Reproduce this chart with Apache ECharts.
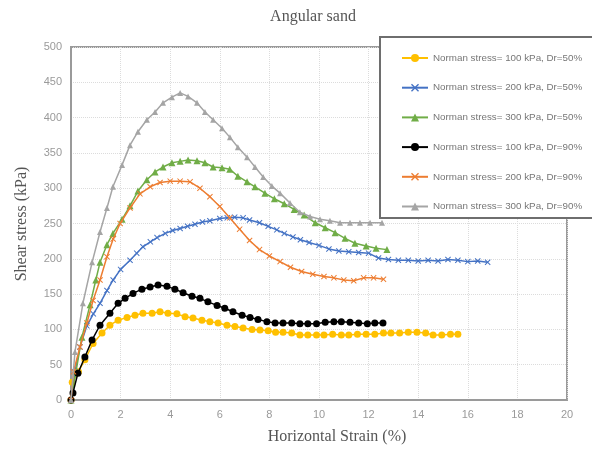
<!DOCTYPE html>
<html>
<head>
<meta charset="utf-8">
<script src="https://cdn.jsdelivr.net/npm/echarts@6/dist/echarts.min.js"></script>
<style>html,body{margin:0;padding:0;background:#fff}#c{width:592px;height:454px}</style>
</head>
<body>
<div id="c"></div>
<script>
var xTicks = [0, 2, 4, 6, 8, 10, 12, 14, 16, 18, 20];
var yTicks = [0, 50, 100, 150, 200, 250, 300, 350, 400, 450, 500];
var seriesNames = [
  'Norman stress= 100 kPa, Dr=50%',
  'Norman stress= 200 kPa, Dr=50%',
  'Norman stress= 300 kPa, Dr=50%',
  'Norman stress= 100 kPa, Dr=90%',
  'Norman stress= 200 kPa, Dr=90%',
  'Norman stress= 300 kPa, Dr=90%'
];
var s100d50 = [[0,0],[0.05,25],[0.3,40],[0.56,57],[0.89,80],[1.25,95],[1.57,106],[1.9,113],[2.26,117],[2.58,120],[2.9,123],[3.27,123],[3.59,125],[3.91,123],[4.27,122],[4.6,118],[4.92,116],[5.28,113],[5.6,111],[5.93,109],[6.29,106],[6.61,104],[6.94,102],[7.3,100],[7.62,99],[7.95,98],[8.25,96],[8.55,96],[8.9,95],[9.23,92],[9.55,92],[9.9,92],[10.2,92],[10.55,93],[10.9,92],[11.2,92],[11.55,93],[11.9,93],[12.25,93],[12.6,95],[12.9,95],[13.25,95],[13.6,96],[13.95,96],[14.3,95],[14.6,92],[14.95,92],[15.3,93],[15.6,93]];
var s200d50 = [[0,0],[0.16,40],[0.36,75],[0.64,105],[0.9,122],[1.17,137],[1.45,155],[1.7,170],[2.0,185],[2.38,198],[2.65,208],[2.9,217],[3.2,224],[3.47,230],[3.8,236],[4.1,240],[4.4,243],[4.7,246],[5.0,249],[5.3,252],[5.6,254],[6.0,257],[6.3,258],[6.6,259],[6.94,258],[7.2,255],[7.6,251],[7.95,246],[8.3,241],[8.6,236],[8.95,231],[9.25,227],[9.6,223],[10.0,219],[10.4,214],[10.8,211],[11.2,210],[11.6,209],[12.0,208],[12.4,201],[12.8,199],[13.2,198],[13.6,198],[14.0,197],[14.4,198],[14.8,197],[15.2,199],[15.6,198],[16.0,196],[16.4,197],[16.8,195]];
var s300d50 = [[0,0],[0.2,40],[0.44,89],[0.77,135],[1.0,170],[1.17,195],[1.45,220],[1.69,236],[2.06,256],[2.38,275],[2.7,296],[3.06,312],[3.39,323],[3.71,330],[4.07,336],[4.4,338],[4.72,340],[5.08,339],[5.4,336],[5.73,330],[6.09,329],[6.4,327],[6.73,317],[7.1,309],[7.42,302],[7.82,293],[8.2,285],[8.6,278],[9.0,270],[9.4,262],[9.85,251],[10.25,244],[10.65,237],[11.05,229],[11.45,222],[11.9,218],[12.3,215],[12.74,213]];
var s100d90 = [[0,0],[0.08,10],[0.28,38],[0.56,61],[0.85,85],[1.17,106],[1.57,123],[1.9,137],[2.18,144],[2.5,151],[2.86,157],[3.19,160],[3.51,163],[3.87,161],[4.19,157],[4.52,152],[4.88,147],[5.2,144],[5.52,139],[5.89,134],[6.2,130],[6.53,125],[6.9,120],[7.22,117],[7.54,114],[7.9,111],[8.23,109],[8.55,109],[8.9,109],[9.23,108],[9.55,108],[9.9,108],[10.25,110],[10.6,111],[10.9,111],[11.25,110],[11.6,109],[11.95,108],[12.25,109],[12.58,109]];
var s200d90 = [[0,0],[0.1,40],[0.36,75],[0.64,109],[0.89,141],[1.17,170],[1.45,203],[1.7,228],[1.98,250],[2.38,272],[2.78,292],[3.19,302],[3.59,308],[4.0,310],[4.4,310],[4.8,309],[5.2,300],[5.6,288],[6.0,274],[6.4,258],[6.8,242],[7.2,226],[7.6,213],[8.0,204],[8.43,196],[8.85,188],[9.3,182],[9.75,178],[10.2,175],[10.6,173],[11.0,170],[11.4,169],[11.8,173],[12.2,173],[12.6,171]];
var s300d90 = [[0,0],[0.16,68],[0.48,137],[0.85,195],[1.17,238],[1.45,272],[1.69,302],[2.06,333],[2.38,361],[2.7,380],[3.06,397],[3.39,408],[3.71,421],[4.07,429],[4.4,435],[4.72,430],[5.08,421],[5.4,408],[5.73,397],[6.09,385],[6.41,372],[6.73,358],[7.1,344],[7.42,330],[7.75,316],[8.1,303],[8.43,293],[8.83,279],[9.23,266],[9.64,260],[10.04,256],[10.44,254],[10.85,251],[11.25,251],[11.65,251],[12.06,251],[12.54,251]];

var colors = ['#FFC000', '#4472C4', '#70AD47', '#000000', '#ED7D31', '#A5A5A5'];
var xMark = 'path://M0,1.2 L1.2,0 L5,3.8 L8.8,0 L10,1.2 L6.2,5 L10,8.8 L8.8,10 L5,6.2 L1.2,10 L0,8.8 L3.8,5 Z';
var symbols = ['circle', xMark, 'triangle', 'circle', xMark, 'triangle'];
var sizes = [7, 6, 7, 7, 6, 6];
var datasets = [s100d50, s200d50, s300d50, s100d90, s200d90, s300d90];

var series = datasets.map(function (d, i) {
  return {
    name: seriesNames[i],
    type: 'line',
    data: d,
    symbol: symbols[i],
    symbolSize: sizes[i],
    showSymbol: true,
    lineStyle: { color: colors[i], width: 1.5 },
    itemStyle: { color: colors[i], borderWidth: 0 },
    z: 2 + i * 0.01
  };
});

var chart = echarts.init(document.getElementById('c'), null, { renderer: 'canvas' });
chart.setOption({
  animation: false,
  backgroundColor: '#fff',
  title: {
    text: 'Angular sand',
    left: 308, top: 4, textAlign: 'center',
    textStyle: { fontFamily: 'Liberation Serif', fontSize: 16, fontWeight: 'normal', color: '#555' }
  },
  grid: { left: 71, right: 25, top: 47, bottom: 54, show: true, borderColor: '#9a9a9a', borderWidth: 2, containLabel: false },
  xAxis: {
    type: 'value', min: 0, max: 20, interval: 2,
    axisLine: { show: true, lineStyle: { color: '#9a9a9a', width: 2 } },
    axisTick: { show: false },
    axisLabel: { color: '#9a9a9a', fontSize: 11, fontFamily: 'Liberation Sans', margin: 9,
      formatter: function (v) { return xTicks.indexOf(v) >= 0 ? String(v) : ''; } },
    splitLine: { show: true, lineStyle: { color: '#dcdcdc', type: 'dotted', width: 1 } }
  },
  yAxis: {
    type: 'value', min: 0, max: 500, interval: 50,
    axisLine: { show: true, lineStyle: { color: '#9a9a9a', width: 2 } },
    axisTick: { show: false },
    axisLabel: { color: '#9a9a9a', fontSize: 11, fontFamily: 'Liberation Sans', margin: 9,
      formatter: function (v) { return yTicks.indexOf(v) >= 0 ? String(v) : ''; } },
    splitLine: { show: true, lineStyle: { color: '#dcdcdc', type: 'dotted', width: 1 } }
  },
  legend: {
    orient: 'vertical', left: 396, top: 48,
    itemWidth: 26, itemHeight: 10, itemGap: 19.7,
    textStyle: { fontFamily: 'Liberation Sans', fontSize: 9.8, color: '#777' },
    data: seriesNames,
    z: 10
  },
  graphic: {
    elements: [
      { type: 'rect', z: 5, shape: { x: 380, y: 37, width: 240, height: 181 },
        style: { fill: '#fff', stroke: '#6e6e6e', lineWidth: 2 } },
      { type: 'text', z: 5, x: 337, y: 437,
        style: { text: 'Horizontal Strain (%)', textAlign: 'center', textVerticalAlign: 'middle',
          font: '16px "Liberation Serif"', fill: '#555' } },
      { type: 'text', z: 5, x: 22, y: 224, rotation: Math.PI / 2,
        style: { text: 'Shear stress (kPa)', textAlign: 'center', textVerticalAlign: 'middle',
          font: '16px "Liberation Serif"', fill: '#555' } }
    ]
  },
  series: series
});
</script>
</body>
</html>
